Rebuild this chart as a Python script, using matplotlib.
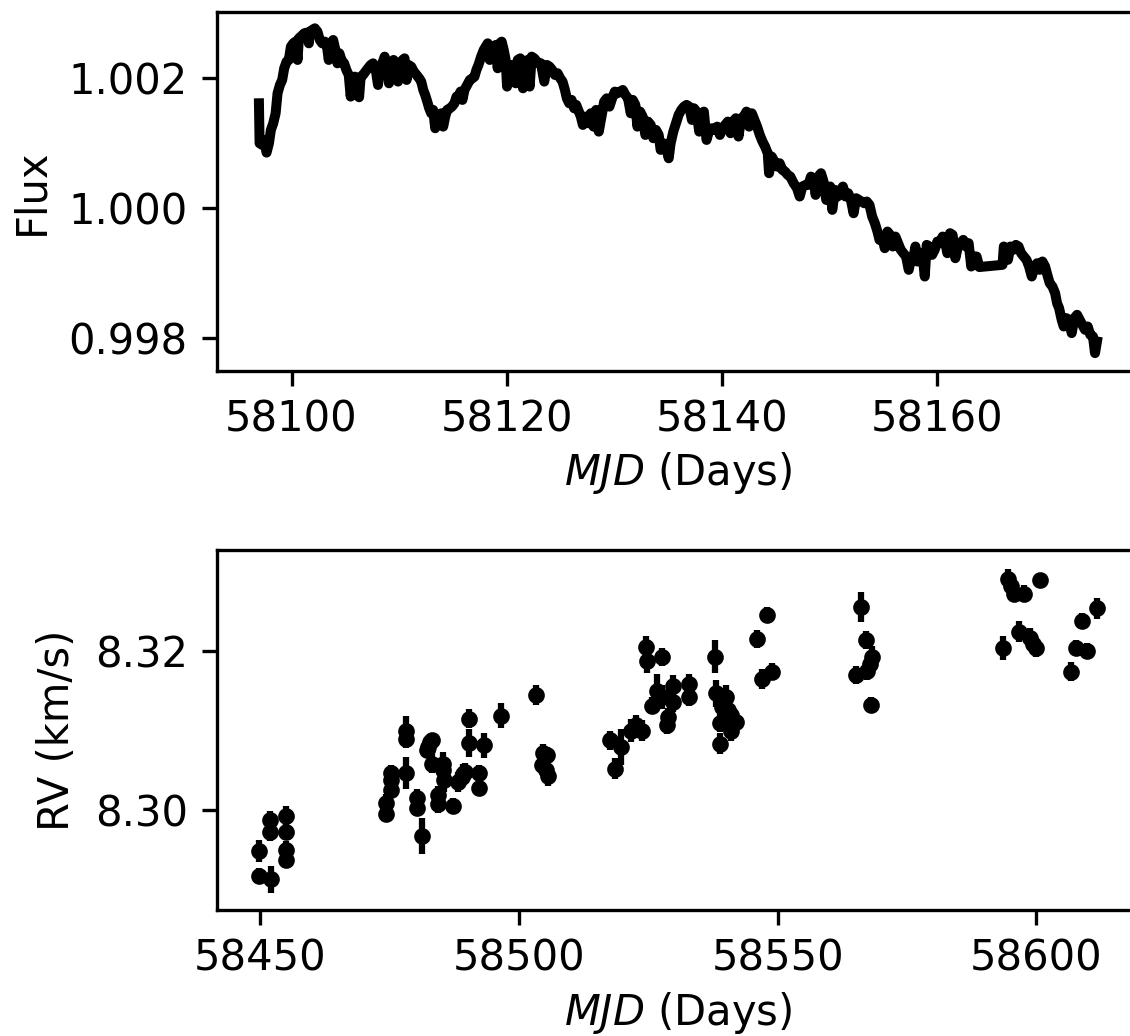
import numpy as np
import matplotlib
matplotlib.use("Agg")
import matplotlib.pyplot as plt

# --- photometry: normalised flux vs MJD ---
flux_mjd = [
    58096.97, 58097.03, 58097.28, 58097.47, 58097.68, 58097.90, 58098.08, 58098.30, 58098.52, 58098.70,
    58098.92, 58099.13, 58099.32, 58099.54, 58099.75, 58099.94, 58100.16, 58100.37, 58100.56, 58100.68,
    58100.93, 58101.18, 58101.39, 58101.61, 58101.70, 58101.92, 58102.17, 58102.41, 58102.63, 58102.85,
    58103.09, 58103.28, 58103.46, 58103.65, 58103.87, 58104.08, 58104.27, 58104.45, 58104.64, 58104.89,
    58105.10, 58105.32, 58105.50, 58105.69, 58105.88, 58106.09, 58106.28, 58106.43, 58106.65, 58106.87,
    58107.11, 58107.36, 58107.58, 58107.79, 58108.04, 58108.23, 58108.44, 58108.66, 58108.88, 58109.06,
    58109.28, 58109.49, 58109.71, 58109.90, 58110.11, 58110.33, 58110.51, 58110.70, 58110.89, 58111.13,
    58111.38, 58111.63, 58111.87, 58112.06, 58112.25, 58112.43, 58112.62, 58112.80, 58112.99, 58113.17,
    58113.36, 58113.54, 58113.73, 58113.92, 58114.10, 58114.29, 58114.47, 58114.72, 58114.91, 58115.15,
    58115.34, 58115.52, 58115.71, 58115.89, 58116.08, 58116.33, 58116.58, 58116.82, 58117.01, 58117.19,
    58117.38, 58117.63, 58117.87, 58118.06, 58118.24, 58118.43, 58118.62, 58118.80, 58118.99, 58119.17,
    58119.36, 58119.54, 58119.73, 58119.91, 58120.04, 58120.25, 58120.47, 58120.66, 58120.84, 58121.03,
    58121.27, 58121.52, 58121.71, 58121.96, 58122.14, 58122.33, 58122.57, 58122.82, 58123.01,
    58123.19, 58123.50, 58123.75, 58123.99, 58124.24, 58124.49, 58124.74, 58124.98, 58125.20, 58125.42,
    58125.60, 58125.82, 58126.04, 58126.28, 58126.47, 58126.65, 58126.90, 58127.09, 58127.33, 58127.58,
    58127.83, 58128.08, 58128.32, 58128.57, 58128.82, 58129.07, 58129.31, 58129.56, 58129.81, 58130.06,
    58130.30, 58130.55, 58130.80, 58131.05, 58131.29, 58131.54, 58131.73, 58131.97, 58132.16, 58132.41,
    58132.65, 58132.90, 58133.15, 58133.40, 58133.64, 58133.89, 58134.14, 58134.32, 58134.57, 58134.82,
    58135.07, 58135.25, 58135.50, 58135.75, 58135.99, 58136.24, 58136.49, 58136.73, 58136.98, 58137.23,
    58137.42, 58137.66, 58137.91, 58138.16, 58138.34, 58138.59, 58138.84, 58139.09, 58139.33, 58139.58,
    58139.83, 58140.07, 58140.32, 58140.57, 58140.82, 58141.06, 58141.31, 58141.56, 58141.81, 58142.05,
    58142.30, 58142.55, 58142.80, 58143.04, 58143.29, 58143.54, 58143.79, 58144.03, 58144.28, 58144.40,
    58144.65, 58144.90, 58145.15, 58145.39, 58145.64, 58145.89, 58146.14, 58146.38, 58146.69, 58147.00,
    58147.25, 58147.50, 58147.80, 58148.05, 58148.30, 58148.55, 58148.73, 58148.98, 58149.23, 58149.47,
    58149.72, 58149.97,
    58150.09, 58150.28, 58150.53, 58150.77, 58151.02, 58151.27, 58151.51, 58151.76, 58152.01, 58152.26,
    58152.50, 58152.75, 58153.00, 58153.25, 58153.49, 58153.74, 58153.99, 58154.24, 58154.48, 58154.67,
    58154.92, 58155.16, 58155.41, 58155.66, 58155.91, 58156.15, 58156.40, 58156.65, 58156.90, 58157.14,
    58157.39, 58157.58, 58157.82, 58158.01, 58158.19, 58158.44, 58158.69, 58158.88, 58159.06, 58159.31,
    58159.56, 58159.80, 58160.05, 58160.30, 58160.54, 58160.79, 58160.98, 58161.23, 58161.47, 58161.72,
    58161.97, 58162.21, 58162.46, 58162.71, 58162.96, 58163.20, 58163.45, 58163.70, 58163.95, 58166.11,
    58166.23, 58166.36, 58166.61, 58166.85, 58167.10, 58167.35, 58167.60, 58167.84, 58168.09, 58168.34,
    58168.58, 58168.83, 58169.08, 58169.33, 58169.57, 58169.82, 58170.07, 58170.32, 58170.50, 58170.75,
    58171.00, 58171.18, 58171.37, 58171.61, 58171.80, 58172.05, 58172.30, 58172.54, 58172.79, 58173.04,
    58173.28, 58173.53, 58173.78, 58174.03, 58174.27, 58174.52, 58174.71, 58174.89,
]

flux = [
    1.001610, 1.000995, 1.000969, 1.001046, 1.000851, 1.000995, 1.001200, 1.001303, 1.001456, 1.001764,
    1.001892, 1.001969, 1.002149, 1.002251, 1.002277, 1.002482, 1.002533, 1.002559, 1.002277, 1.002610,
    1.002646, 1.002687, 1.002697, 1.002533, 1.002713, 1.002738, 1.002764, 1.002713, 1.002584, 1.002533,
    1.002559, 1.002508, 1.002277, 1.002533, 1.002584, 1.002431, 1.002225, 1.002379, 1.002277, 1.002225,
    1.002123, 1.002046, 1.001713, 1.001995, 1.002020, 1.001944, 1.001703, 1.002020, 1.002046, 1.002097,
    1.002149, 1.002200, 1.002225, 1.002174, 1.001892, 1.002174, 1.002225, 1.002328, 1.002200, 1.001918,
    1.002225, 1.002277, 1.002200, 1.001944, 1.002225, 1.002277, 1.002302, 1.001969, 1.002200, 1.002174,
    1.002097, 1.002046, 1.001995, 1.001944, 1.001815, 1.001738, 1.001636, 1.001533, 1.001456, 1.001508,
    1.001226, 1.001405, 1.001431, 1.001456, 1.001251, 1.001405, 1.001508, 1.001533, 1.001559, 1.001610,
    1.001713, 1.001713, 1.001790, 1.001662, 1.001815, 1.001892, 1.001969, 1.001995, 1.002020, 1.002123,
    1.002200, 1.002328, 1.002431, 1.002482, 1.002533, 1.002277, 1.002405, 1.002456, 1.002508, 1.002149,
    1.002533, 1.002559, 1.002431, 1.002277, 1.001867, 1.002149, 1.002200, 1.002123, 1.001918, 1.002277,
    1.002302, 1.001841, 1.002251, 1.002277, 1.001867, 1.002328, 1.002302, 1.002251, 1.002225,
    1.002225, 1.001944, 1.002200, 1.002174, 1.002123, 1.002046, 1.002072, 1.001995, 1.001944, 1.001815,
    1.001687, 1.001610, 1.001662, 1.001533, 1.001585, 1.001508, 1.001405, 1.001277, 1.001405, 1.001303,
    1.001456, 1.001251, 1.001508, 1.001174, 1.001405, 1.001636, 1.001687, 1.001559, 1.001687, 1.001790,
    1.001764, 1.001790, 1.001815, 1.001738, 1.001687, 1.001456, 1.001662, 1.001585, 1.001251, 1.001482,
    1.001405, 1.001123, 1.001328, 1.001277, 1.001072, 1.001200, 1.001123, 1.000893, 1.000995, 1.000944,
    1.000764, 1.000995, 1.001174, 1.001303, 1.001431, 1.001508, 1.001559, 1.001585, 1.001559, 1.001354,
    1.001533, 1.001482, 1.001174, 1.001405, 1.001482, 1.001046, 1.001200, 1.001226, 1.001200, 1.001251,
    1.001123, 1.001226, 1.001277, 1.001328, 1.001149, 1.001328, 1.001380, 1.001098, 1.001380, 1.001405,
    1.001482, 1.001251, 1.001456, 1.001354, 1.001251, 1.001123, 1.001021, 1.000944, 1.000841, 1.000534,
    1.000790, 1.000713, 1.000636, 1.000687, 1.000585, 1.000559, 1.000508, 1.000482, 1.000380, 1.000303,
    1.000175, 1.000329, 1.000354, 1.000354, 1.000482, 1.000431, 1.000200, 1.000482, 1.000534, 1.000405,
    1.000123, 1.000277,
    1.000329, 0.999970, 1.000277, 1.000175, 1.000252, 1.000329, 1.000175, 1.000226, 1.000123, 0.999918,
    1.000149, 1.000123, 1.000098, 1.000072, 1.000098, 1.000046, 0.999867, 0.999765, 0.999636, 0.999508,
    0.999559, 0.999380, 0.999636, 0.999585, 0.999406, 0.999559, 0.999457, 0.999354, 0.999303, 0.999252,
    0.999047, 0.999201, 0.999226, 0.999406, 0.999175, 0.999303, 0.999252, 0.998944, 0.999431, 0.999406,
    0.999277, 0.999354, 0.999482, 0.999457, 0.999559, 0.999457, 0.999303, 0.999611, 0.999585, 0.999226,
    0.999406, 0.999457, 0.999508, 0.999406, 0.999457, 0.999098, 0.999252, 0.999252, 0.999090, 0.999124,
    0.999406, 0.999354, 0.999201, 0.999406, 0.999354, 0.999431, 0.999406, 0.999303, 0.999252, 0.999201,
    0.999098, 0.998944, 0.999098, 0.999149, 0.999047, 0.999175, 0.999098, 0.998944, 0.998842, 0.998790,
    0.998688, 0.998534, 0.998457, 0.998278, 0.998175, 0.998303, 0.998278, 0.998073, 0.998303, 0.998355,
    0.998278, 0.998201, 0.998124, 0.998175, 0.998047, 0.998021, 0.997765, 0.997944,
]

# --- spectroscopy: radial velocities with 1-sigma errors ---
rv_mjd = [
    58449.81, 58449.81, 58451.93, 58451.93, 58452.06, 58454.95, 58454.95, 58454.95, 58454.95,
    58474.26, 58474.26, 58475.23, 58475.23, 58475.23, 58478.19, 58478.19, 58478.19, 58480.31, 58480.31, 58481.21,
    58482.30, 58482.50, 58482.82, 58483.14, 58483.14, 58484.30, 58484.30, 58485.26, 58485.26, 58485.46,
    58487.33, 58488.29, 58488.93, 58489.25, 58489.58, 58490.41, 58490.41, 58492.34, 58492.34, 58493.31, 58496.53,
    58503.41, 58504.70, 58505.47, 58504.57, 58505.21, 58505.60,
    58517.70, 58518.66, 58519.69, 58521.75, 58522.72, 58523.75, 58524.65, 58524.84, 58527.74, 58525.80, 58526.70, 58527.74,
    58529.79, 58529.79, 58528.83, 58528.64, 58532.88, 58532.88,
    58537.84, 58538.03, 58540.09, 58539.32, 58540.41, 58541.06, 58538.80, 58538.93, 58541.06, 58542.02,
    58546.01, 58548.01, 58546.97, 58548.98,
    58566.16, 58567.12, 58568.28, 58567.76, 58567.31, 58565.19, 58568.09,
    58594.46, 58595.11, 58595.56, 58597.55, 58600.58, 58593.50, 58596.60, 58598.66, 58599.30, 58599.83,
    58608.75, 58611.71, 58607.66, 58609.78, 58606.69,
]

rv = [
    8.29491, 8.29175, 8.29883, 8.29729, 8.29134, 8.29929, 8.29729, 8.29500, 8.29375,
    8.30096, 8.29958, 8.30467, 8.30375, 8.30258, 8.31000, 8.30896, 8.30467, 8.30158, 8.30033, 8.29679,
    8.30750, 8.30792, 8.30854, 8.30875, 8.30583, 8.30188, 8.30083, 8.30583, 8.30500, 8.30375,
    8.30050, 8.30354, 8.30417, 8.30458, 8.30479, 8.31146, 8.30842, 8.30467, 8.30279, 8.30813, 8.31188,
    8.31446, 8.30717, 8.30688, 8.30563, 8.30500, 8.30425,
    8.30875, 8.30521, 8.30792, 8.31000, 8.31063, 8.31000, 8.32042, 8.31875, 8.31925, 8.31313, 8.31500, 8.31417,
    8.31563, 8.31354, 8.31167, 8.31075, 8.31583, 8.31425,
    8.31925, 8.31467, 8.31417, 8.31292, 8.31258, 8.31200, 8.31092, 8.30833, 8.31000, 8.31104,
    8.32146, 8.32450, 8.31646, 8.31738,
    8.32550, 8.32133, 8.31925, 8.31833, 8.31750, 8.31696, 8.31321,
    8.32896, 8.32813, 8.32717, 8.32717, 8.32888, 8.32029, 8.32238, 8.32158, 8.32083, 8.32029,
    8.32375, 8.32533, 8.32033, 8.31992, 8.31738,
]

rv_err = [
    0.0014, 0.0010, 0.0011, 0.0011, 0.0017, 0.0013, 0.0010, 0.0012, 0.0010,
    0.0011, 0.0010, 0.0010, 0.0010, 0.0010, 0.0018, 0.0012, 0.0020, 0.0011, 0.0011, 0.0023,
    0.0010, 0.0010, 0.0010, 0.0010, 0.0012, 0.0012, 0.0012, 0.0015, 0.0012, 0.0015,
    0.0010, 0.0012, 0.0012, 0.0012, 0.0012, 0.0012, 0.0018, 0.0010, 0.0010, 0.0016, 0.0016,
    0.0012, 0.0011, 0.0011, 0.0011, 0.0012, 0.0012,
    0.0012, 0.0013, 0.0023, 0.0014, 0.0013, 0.0013, 0.0014, 0.0015, 0.0011, 0.0011, 0.0021, 0.0015,
    0.0013, 0.0012, 0.0011, 0.0012, 0.0012, 0.0012,
    0.0021, 0.0017, 0.0015, 0.0012, 0.0012, 0.0012, 0.0011, 0.0013, 0.0013, 0.0012,
    0.0011, 0.0010, 0.0012, 0.0011,
    0.0019, 0.0011, 0.0013, 0.0012, 0.0012, 0.0011, 0.0010,
    0.0013, 0.0010, 0.0011, 0.0011, 0.0009, 0.0015, 0.0013, 0.0013, 0.0011, 0.0011,
    0.0010, 0.0013, 0.0010, 0.0010, 0.0012,
]

W, H = 1130, 1036
fig = plt.figure(figsize=(W / 300, H / 300), dpi=300)

# panels run slightly past the right edge of the canvas
ax1 = fig.add_axes([217 / W, 1 - 371 / H, 922 / W, 359 / H])
ax2 = fig.add_axes([217 / W, 1 - 910 / H, 922 / W, 360 / H])

ax1.plot(flux_mjd, flux, color='k', lw=2.4)
ax1.set_xlim(58093.07, 58178.8)
ax1.set_ylim(0.99749, 1.003015)
ax1.set_xlabel(r'$MJD$ (Days)', labelpad=2.5)
ax1.set_ylabel('Flux')
ax1.tick_params(axis='x', pad=3.0)

ax2.errorbar(rv_mjd, rv, yerr=rv_err, fmt='k.')
ax2.set_xlim(58441.7, 58619.8)
ax2.set_ylim(8.2875, 8.33263)
ax2.set_xlabel(r'$MJD$ (Days)', labelpad=2.5)
ax2.set_ylabel('RV (km/s)')
ax2.tick_params(axis='x', pad=3.0)

fig.savefig('out.png', dpi=300)
